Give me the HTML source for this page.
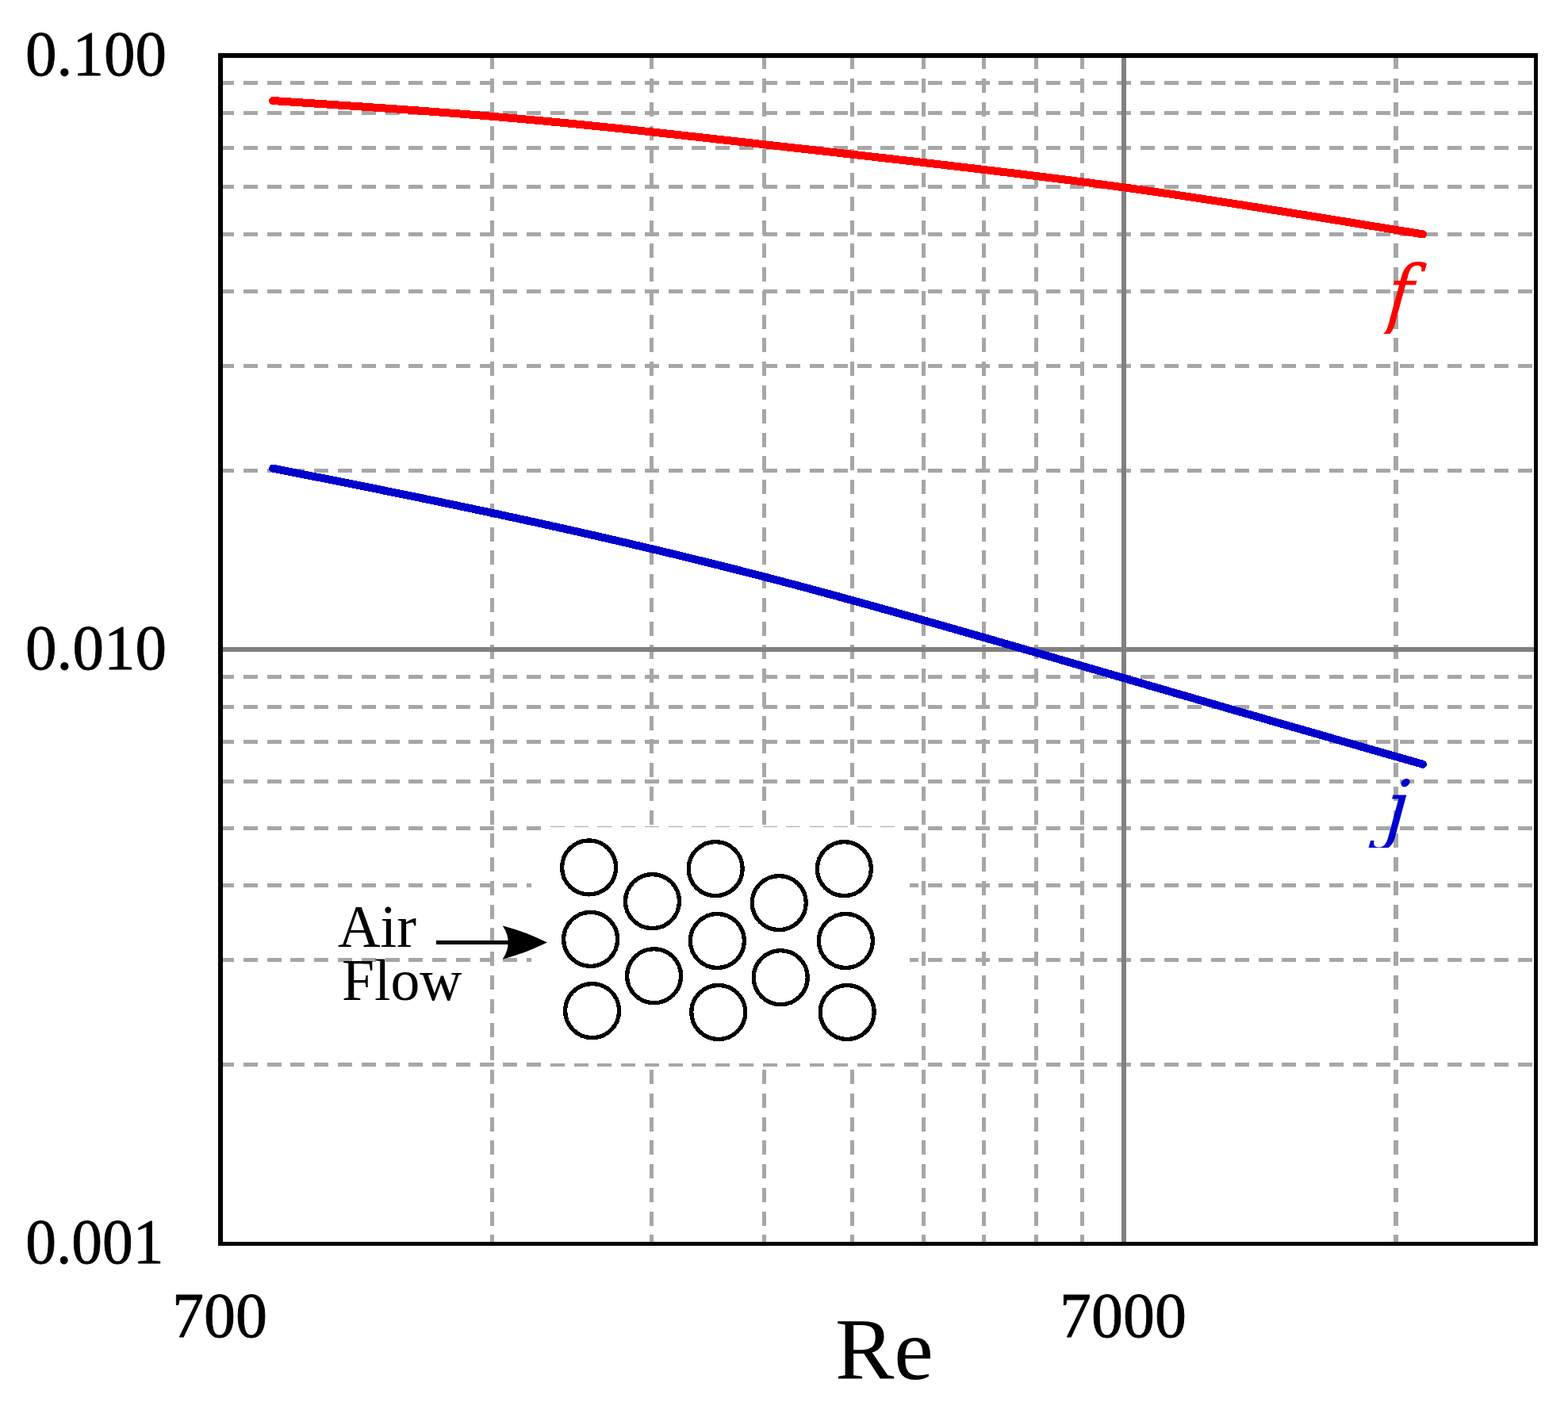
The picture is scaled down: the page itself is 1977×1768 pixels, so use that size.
<!DOCTYPE html>
<html lang="en"><head><meta charset="utf-8"><title>f and j versus Re</title>
<style>html,body{margin:0;padding:0;background:#fff}body{width:1977px;height:1768px;overflow:hidden}svg{display:block}</style>
</head><body>
<svg width="1977" height="1768" viewBox="0 0 1977 1768">
<rect x="0" y="0" width="1977" height="1768" fill="#fff"/>
<g stroke="#a6a6a6" stroke-width="5" fill="none" stroke-dasharray="18 11.76" shape-rendering="crispEdges">
<line x1="277.2" y1="104.5" x2="1934" y2="104.5"/>
<line x1="277.2" y1="142.5" x2="1934" y2="142.5"/>
<line x1="277.2" y1="186.5" x2="1934" y2="186.5"/>
<line x1="277.2" y1="235.5" x2="1934" y2="235.5"/>
<line x1="277.2" y1="295.5" x2="1934" y2="295.5"/>
<line x1="277.2" y1="367.5" x2="1934" y2="367.5"/>
<line x1="277.2" y1="461.5" x2="1934" y2="461.5"/>
<line x1="277.2" y1="593.5" x2="1934" y2="593.5"/>
<line x1="277.2" y1="853.5" x2="1934" y2="853.5"/>
<line x1="277.2" y1="891.5" x2="1934" y2="891.5"/>
<line x1="277.2" y1="935.5" x2="1934" y2="935.5"/>
<line x1="277.2" y1="985.5" x2="1934" y2="985.5"/>
<line x1="277.2" y1="1044.5" x2="1934" y2="1044.5"/>
<line x1="277.2" y1="1116.5" x2="1934" y2="1116.5"/>
<line x1="277.2" y1="1210.5" x2="1934" y2="1210.5"/>
<line x1="277.2" y1="1342.5" x2="1934" y2="1342.5"/>
</g>
<line x1="620.5" y1="69.34" x2="620.5" y2="1566" stroke="#a6a6a6" stroke-width="5" stroke-dasharray="18 11.76" shape-rendering="crispEdges"/>
<line x1="821.5" y1="69.34" x2="821.5" y2="1566" stroke="#a6a6a6" stroke-width="5" stroke-dasharray="18 11.76" shape-rendering="crispEdges"/>
<line x1="963.5" y1="69.34" x2="963.5" y2="1566" stroke="#a6a6a6" stroke-width="5" stroke-dasharray="18 11.76" shape-rendering="crispEdges"/>
<line x1="1074.5" y1="69.34" x2="1074.5" y2="1566" stroke="#a6a6a6" stroke-width="5" stroke-dasharray="18 11.76" shape-rendering="crispEdges"/>
<line x1="1164.5" y1="69.34" x2="1164.5" y2="1566" stroke="#a6a6a6" stroke-width="5" stroke-dasharray="18 11.76" shape-rendering="crispEdges"/>
<line x1="1240.5" y1="69.34" x2="1240.5" y2="1566" stroke="#a6a6a6" stroke-width="5" stroke-dasharray="18 11.76" shape-rendering="crispEdges"/>
<line x1="1306.5" y1="69.34" x2="1306.5" y2="1566" stroke="#a6a6a6" stroke-width="5" stroke-dasharray="18 11.76" shape-rendering="crispEdges"/>
<line x1="1364.5" y1="69.34" x2="1364.5" y2="1566" stroke="#a6a6a6" stroke-width="5" stroke-dasharray="18 11.76" shape-rendering="crispEdges"/>
<line x1="1760" y1="69.34" x2="1760" y2="1566" stroke="#a6a6a6" stroke-width="6" stroke-dasharray="18 11.76" shape-rendering="crispEdges"/>
<g fill="#808080" shape-rendering="crispEdges">
<rect x="1414" y="70" width="6" height="1497"/>
<rect x="278" y="816" width="1658" height="6"/>
</g>
<rect x="670" y="1047" width="477" height="292" fill="#fff"/>
<rect x="690" y="1043" width="438" height="298" fill="#fff"/>
<path d="M344.0 127.02 L356.2 127.83 L368.4 128.64 L380.6 129.45 L392.7 130.26 L404.9 131.07 L417.1 131.87 L429.3 132.69 L441.5 133.50 L453.7 134.32 L465.8 135.15 L478.0 135.99 L490.2 136.84 L502.4 137.69 L514.6 138.57 L526.8 139.45 L539.0 140.35 L551.1 141.27 L563.3 142.20 L575.5 143.15 L587.7 144.11 L599.9 145.10 L612.1 146.10 L624.3 147.12 L636.4 148.16 L648.6 149.22 L660.8 150.30 L673.0 151.40 L685.2 152.53 L697.4 153.67 L709.5 154.84 L721.7 156.03 L733.9 157.24 L746.1 158.46 L758.3 159.71 L770.5 160.97 L782.7 162.25 L794.8 163.54 L807.0 164.84 L819.2 166.16 L831.4 167.48 L843.6 168.82 L855.8 170.16 L867.9 171.52 L880.1 172.87 L892.3 174.23 L904.5 175.60 L916.7 176.97 L928.9 178.34 L941.1 179.70 L953.2 181.07 L965.4 182.44 L977.6 183.81 L989.8 185.18 L1002.0 186.54 L1014.2 187.91 L1026.4 189.28 L1038.5 190.66 L1050.7 192.03 L1062.9 193.41 L1075.1 194.79 L1087.3 196.17 L1099.5 197.55 L1111.6 198.94 L1123.8 200.34 L1136.0 201.73 L1148.2 203.14 L1160.4 204.55 L1172.6 205.96 L1184.8 207.38 L1196.9 208.80 L1209.1 210.24 L1221.3 211.68 L1233.5 213.12 L1245.7 214.58 L1257.9 216.04 L1270.1 217.51 L1282.2 219.00 L1294.4 220.49 L1306.6 221.99 L1318.8 223.51 L1331.0 225.04 L1343.2 226.59 L1355.3 228.15 L1367.5 229.73 L1379.7 231.33 L1391.9 232.95 L1404.1 234.59 L1416.3 236.25 L1428.5 237.93 L1440.6 239.64 L1452.8 241.37 L1465.0 243.13 L1477.2 244.91 L1489.4 246.71 L1501.6 248.54 L1513.7 250.38 L1525.9 252.24 L1538.1 254.12 L1550.3 256.02 L1562.5 257.93 L1574.7 259.86 L1586.9 261.79 L1599.0 263.74 L1611.2 265.70 L1623.4 267.66 L1635.6 269.64 L1647.8 271.62 L1660.0 273.60 L1672.2 275.59 L1684.3 277.58 L1696.5 279.57 L1708.7 281.56 L1720.9 283.55 L1733.1 285.53 L1745.3 287.51 L1757.4 289.49 L1769.6 291.46 L1781.8 293.42 L1794.0 295.37" fill="none" stroke="#ff0000" stroke-width="10" stroke-linecap="round" stroke-linejoin="round" shape-rendering="crispEdges"/>
<path d="M344.0 590.71 L356.2 593.09 L368.4 595.48 L380.6 597.87 L392.7 600.27 L404.9 602.68 L417.1 605.09 L429.3 607.52 L441.5 609.95 L453.7 612.39 L465.8 614.84 L478.0 617.29 L490.2 619.76 L502.4 622.24 L514.6 624.73 L526.8 627.23 L539.0 629.74 L551.1 632.27 L563.3 634.81 L575.5 637.35 L587.7 639.92 L599.9 642.49 L612.1 645.08 L624.3 647.68 L636.4 650.30 L648.6 652.94 L660.8 655.58 L673.0 658.25 L685.2 660.93 L697.4 663.63 L709.5 666.34 L721.7 669.07 L733.9 671.82 L746.1 674.59 L758.3 677.37 L770.5 680.18 L782.7 683.00 L794.8 685.84 L807.0 688.70 L819.2 691.59 L831.4 694.49 L843.6 697.41 L855.8 700.36 L867.9 703.32 L880.1 706.31 L892.3 709.32 L904.5 712.35 L916.7 715.41 L928.9 718.48 L941.1 721.59 L953.2 724.71 L965.4 727.86 L977.6 731.03 L989.8 734.23 L1002.0 737.45 L1014.2 740.69 L1026.4 743.96 L1038.5 747.24 L1050.7 750.55 L1062.9 753.88 L1075.1 757.23 L1087.3 760.59 L1099.5 763.97 L1111.6 767.36 L1123.8 770.77 L1136.0 774.20 L1148.2 777.63 L1160.4 781.08 L1172.6 784.54 L1184.8 788.01 L1196.9 791.48 L1209.1 794.97 L1221.3 798.46 L1233.5 801.96 L1245.7 805.46 L1257.9 808.97 L1270.1 812.49 L1282.2 816.01 L1294.4 819.53 L1306.6 823.06 L1318.8 826.59 L1331.0 830.13 L1343.2 833.66 L1355.3 837.20 L1367.5 840.75 L1379.7 844.29 L1391.9 847.83 L1404.1 851.38 L1416.3 854.92 L1428.5 858.47 L1440.6 862.02 L1452.8 865.56 L1465.0 869.10 L1477.2 872.64 L1489.4 876.18 L1501.6 879.72 L1513.7 883.25 L1525.9 886.78 L1538.1 890.31 L1550.3 893.83 L1562.5 897.35 L1574.7 900.86 L1586.9 904.37 L1599.0 907.88 L1611.2 911.39 L1623.4 914.89 L1635.6 918.39 L1647.8 921.89 L1660.0 925.39 L1672.2 928.88 L1684.3 932.37 L1696.5 935.87 L1708.7 939.36 L1720.9 942.85 L1733.1 946.34 L1745.3 949.83 L1757.4 953.32 L1769.6 956.81 L1781.8 960.30 L1794.0 963.79" fill="none" stroke="#0000cc" stroke-width="10" stroke-linecap="round" stroke-linejoin="round" shape-rendering="crispEdges"/>
<g fill="#000" shape-rendering="crispEdges">
<rect x="275" y="67" width="1664" height="6"/>
<rect x="275" y="67" width="6" height="1504"/>
<rect x="275" y="1566" width="1664" height="5"/>
<rect x="1934" y="67" width="5" height="1504"/>
</g>
<g fill="none" stroke="#000" stroke-width="5.3" shape-rendering="crispEdges">
<circle cx="742.6" cy="1093.9" r="34"/>
<circle cx="902.2" cy="1095.6" r="34"/>
<circle cx="1064.4" cy="1095.6" r="34"/>
<circle cx="822.5" cy="1136.6" r="34"/>
<circle cx="982.3" cy="1138.6" r="34"/>
<circle cx="744.6" cy="1184.4" r="34"/>
<circle cx="904.4" cy="1186.5" r="34"/>
<circle cx="1066.4" cy="1186.5" r="34"/>
<circle cx="824.6" cy="1230.7" r="34"/>
<circle cx="984.2" cy="1232.7" r="34"/>
<circle cx="746.6" cy="1274.6" r="34"/>
<circle cx="905.8" cy="1276.5" r="34"/>
<circle cx="1068.2" cy="1276.5" r="34"/>
</g>
<line x1="550" y1="1188.5" x2="645" y2="1188.5" stroke="#000" stroke-width="5" shape-rendering="crispEdges"/>
<path d="M689.3 1188.5 Q662.7 1175.2 634.3 1167.8 Q641.5 1179 640.8 1188.5 Q641.5 1198 634.3 1209.2 Q662.7 1201.8 689.3 1188.5 Z" fill="#000" stroke="#000" stroke-width="0.6" stroke-linejoin="round"/>
<text transform="translate(32.08 94.69) scale(0.9885 1.0055)" font-family="'Liberation Serif', serif" font-size="80" fill="#000" stroke="#000" stroke-width="0.8" stroke-linejoin="round">0.100</text>
<text transform="translate(32.08 843.59) scale(0.9885 1.0073)" font-family="'Liberation Serif', serif" font-size="80" fill="#000" stroke="#000" stroke-width="0.8" stroke-linejoin="round">0.010</text>
<text transform="translate(32.14 1592.69) scale(0.9690 1.0055)" font-family="'Liberation Serif', serif" font-size="80" fill="#000" stroke="#000" stroke-width="0.8" stroke-linejoin="round">0.001</text>
<text transform="translate(216.95 1685.84) scale(1.0009 1.0064)" font-family="'Liberation Serif', serif" font-size="80" fill="#000" stroke="#000" stroke-width="0.8" stroke-linejoin="round">700</text>
<text transform="translate(1336.06 1685.84) scale(0.9987 1.0064)" font-family="'Liberation Serif', serif" font-size="80" fill="#000" stroke="#000" stroke-width="0.8" stroke-linejoin="round">7000</text>
<text transform="translate(1052.90 1738.88) scale(1.0331 1.0174)" font-family="'Liberation Serif', serif" font-size="108" fill="#000">Re</text>
<text transform="translate(425.95 1194.10) scale(1.0036 1.0200)" font-family="'Liberation Serif', serif" font-size="74" fill="#000">Air</text>
<text transform="translate(430.96 1261.35) scale(0.9960 1.0010)" font-family="'Liberation Serif', serif" font-size="74" fill="#000">Flow</text>
<clipPath id="cf"><rect x="1700" y="300" width="140" height="121"/></clipPath>
<clipPath id="cj"><rect x="1700" y="960" width="140" height="109"/></clipPath>
<g clip-path="url(#cf)"><text transform="matrix(0.8900 0 -0.0997 1.0000 1745.44 406.00)" font-family="'DejaVu Serif', 'Liberation Serif', serif" font-size="100" font-style="italic" fill="#ff0000">f</text></g>
<g clip-path="url(#cj)"><text transform="matrix(0.9700 0 -0.0686 0.9560 1744.24 1052.00)" font-family="'DejaVu Serif', 'Liberation Serif', serif" font-size="100" font-style="italic" fill="#0000cc">j</text></g>
</svg>
</body></html>
